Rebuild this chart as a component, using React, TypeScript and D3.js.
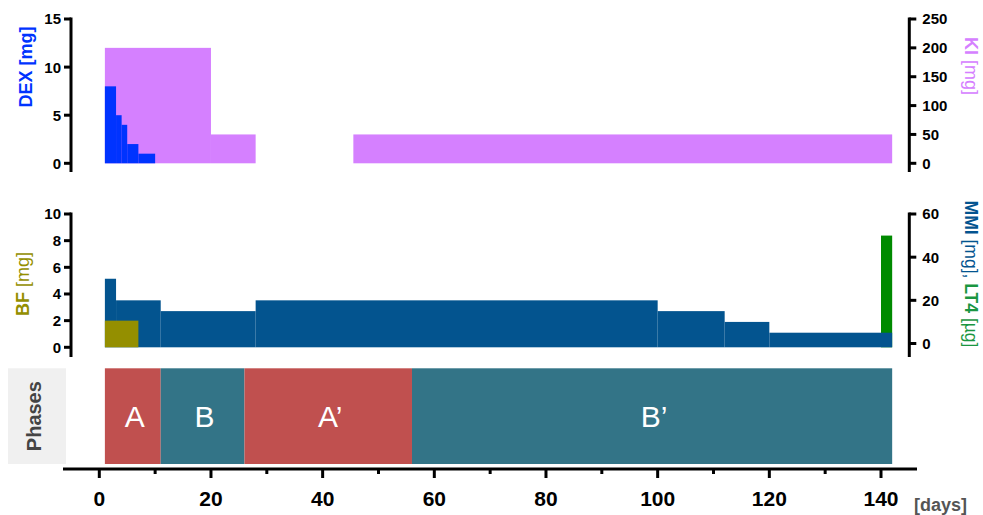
import { useRef, useEffect } from "react";
import * as d3 from "d3";

// step edges (days) and doses
const dexDays = [1, 3, 4, 5, 7, 10];
const dexDose = [8, 5, 4, 2, 1];

const kiStart = [1, 20, 45.5];
const kiEnd = [20, 28, 142];
const kiDose = [200, 50, 50];

const mmiDays = [1, 3, 11, 28, 100, 112, 120, 142];
const mmiDose = [30, 20, 15, 20, 15, 10, 5];

const bfStart = [1];
const bfEnd = [7];
const bfDose = [2];

const lt4Start = [140];
const lt4End = [142];
const lt4Dose = [50];

const phaseLabels = ["A", "B", "A\u2019", "B\u2019"];
const phaseStart = [1, 11, 26, 56];
const phaseEnd = [11, 26, 56, 142];

const xTicks = [0, 20, 40, 60, 80, 100, 120, 140];
const xMinorTicks = [10, 30, 50, 70, 90, 110, 130];
const dexTicks = [0, 5, 10, 15];
const kiTicks = [0, 50, 100, 150, 200, 250];
const bfTicks = [0, 2, 4, 6, 8, 10];
const mmiTicks = [0, 20, 40, 60];

const FONT = "'Liberation Sans', Arial, Helvetica, sans-serif";
const C_DEX = "#0033ff";
const C_KI = "#d580ff";
const C_MMI = "#03548f";
const C_BF = "#948f00";
const C_LT4 = "#008a00";
const C_A = "#c0504f";
const C_B = "#337487";

export default function App() {
  const svgRef = useRef<SVGSVGElement>(null);

  useEffect(() => {
    if (!svgRef.current) return;
    const svg = d3.select(svgRef.current);
    svg.selectAll("*").remove();

    const x = d3.scaleLinear().domain([0, 140]).range([99.3, 881]);

    const yDex = d3.scaleLinear().domain([0, 15]).range([163.3, 19]);
    const yKi = d3.scaleLinear().domain([0, 250]).range([163.3, 19]);
    const yBf = d3.scaleLinear().domain([0, 10]).range([347.3, 214]);
    const yMmi = d3.scaleLinear().domain([0, 60]).range([343.5, 214]);
    const midBase = yBf(0);

    const leftX = 71;
    const rightX = 909.3;

    // ---- top panel bars
    const top = svg.append("g");
    top
      .selectAll("rect.ki")
      .data(kiDose)
      .join("rect")
      .attr("x", (_, i) => x(kiStart[i]))
      .attr("width", (_, i) => x(kiEnd[i]) - x(kiStart[i]))
      .attr("y", (d) => yKi(d))
      .attr("height", (d) => yKi(0) - yKi(d))
      .attr("fill", C_KI);
    top
      .selectAll("rect.dex")
      .data(dexDose)
      .join("rect")
      .attr("x", (_, i) => x(dexDays[i]))
      .attr("width", (_, i) => x(dexDays[i + 1]) - x(dexDays[i]))
      .attr("y", (d) => yDex(d))
      .attr("height", (d) => yDex(0) - yDex(d))
      .attr("fill", C_DEX);

    // ---- middle panel bars
    const mid = svg.append("g");
    mid
      .selectAll("rect.lt4")
      .data(lt4Dose)
      .join("rect")
      .attr("x", (_, i) => x(lt4Start[i]))
      .attr("width", (_, i) => x(lt4End[i]) - x(lt4Start[i]))
      .attr("y", (d) => yMmi(d))
      .attr("height", (d) => midBase - yMmi(d))
      .attr("fill", C_LT4);
    mid
      .selectAll("rect.mmi")
      .data(mmiDose)
      .join("rect")
      .attr("x", (_, i) => x(mmiDays[i]))
      .attr("width", (_, i) => x(mmiDays[i + 1]) - x(mmiDays[i]))
      .attr("y", (d) => yMmi(d))
      .attr("height", (d) => midBase - yMmi(d))
      .attr("fill", C_MMI);
    mid
      .selectAll("rect.bf")
      .data(bfDose)
      .join("rect")
      .attr("x", (_, i) => x(bfStart[i]))
      .attr("width", (_, i) => x(bfEnd[i]) - x(bfStart[i]))
      .attr("y", (d) => yBf(d))
      .attr("height", (d) => midBase - yBf(d))
      .attr("fill", C_BF);

    // ---- phases
    const phTop = 368.3;
    const phBot = 464;
    const ph = svg.append("g");
    ph.append("rect")
      .attr("x", 8)
      .attr("y", phTop)
      .attr("width", 58)
      .attr("height", phBot - phTop)
      .attr("fill", "#f0f0f0");
    ph.append("text")
      .attr("transform", `translate(41,${(phTop + phBot) / 2}) rotate(-90)`)
      .attr("text-anchor", "middle")
      .attr("font-family", FONT)
      .attr("font-weight", "bold")
      .attr("font-size", 20)
      .attr("fill", "#444")
      .text("Phases");
    ph.selectAll("rect.phase")
      .data(phaseLabels)
      .join("rect")
      .attr("x", (_, i) => x(phaseStart[i]))
      .attr("width", (_, i) => x(phaseEnd[i]) - x(phaseStart[i]))
      .attr("y", phTop)
      .attr("height", phBot - phTop)
      .attr("fill", (_, i) => (i % 2 === 0 ? C_A : C_B));
    ph.selectAll("text.phase")
      .data(phaseLabels)
      .join("text")
      .attr("x", (_, i) => (x(phaseStart[i]) + x(phaseEnd[i])) / 2 + 2)
      .attr("y", (phTop + phBot) / 2 + 11)
      .attr("text-anchor", "middle")
      .attr("font-family", FONT)
      .attr("font-size", 30)
      .attr("fill", "#fff")
      .text((d) => d);

    // ---- y axes
    function yAxis(
      scale: d3.ScaleLinear<number, number>,
      ticks: number[],
      side: "left" | "right",
      y0: number,
      y1: number
    ) {
      const ax = side === "left" ? leftX : rightX;
      const g = svg.append("g");
      g.append("line")
        .attr("x1", ax)
        .attr("x2", ax)
        .attr("y1", y0)
        .attr("y2", y1)
        .attr("stroke", "#000")
        .attr("stroke-width", 3);
      const dir = side === "left" ? -1 : 1;
      g.selectAll("line.t")
        .data(ticks)
        .join("line")
        .attr("x1", ax)
        .attr("x2", ax + dir * 7)
        .attr("y1", (d) => scale(d))
        .attr("y2", (d) => scale(d))
        .attr("stroke", "#000")
        .attr("stroke-width", 3);
      g.selectAll("text")
        .data(ticks)
        .join("text")
        .attr("x", side === "left" ? ax - 10 : ax + 13)
        .attr("y", (d) => scale(d))
        .attr("dy", "0.36em")
        .attr("text-anchor", side === "left" ? "end" : "start")
        .attr("font-family", FONT)
        .attr("font-weight", "bold")
        .attr("font-size", 15)
        .attr("fill", "#000")
        .text((d) => String(d));
    }
    yAxis(yDex, dexTicks, "left", 17.5, 172);
    yAxis(yKi, kiTicks, "right", 17.5, 172);
    yAxis(yBf, bfTicks, "left", 212.5, 357);
    yAxis(yMmi, mmiTicks, "right", 212.5, 357);

    // ---- axis titles
    function title(
      cx: number,
      cy: number,
      rot: number,
      parts: { t: string; bold: boolean; c: string }[],
      size = 18
    ) {
      const t = svg
        .append("text")
        .attr("transform", `translate(${cx},${cy}) rotate(${rot})`)
        .attr("text-anchor", "middle")
        .attr("dy", "0.36em")
        .attr("font-family", FONT)
        .attr("font-size", size);
      parts.forEach((p) =>
        t
          .append("tspan")
          .attr("fill", p.c)
          .attr("font-weight", p.bold ? "bold" : "normal")
          .text(p.t)
      );
    }
    title(26, 67, -90, [
      { t: "DEX ", bold: true, c: C_DEX },
      { t: "[mg]", bold: true, c: C_DEX },
    ]);
    title(971, 66, 90, [
      { t: "KI ", bold: true, c: C_KI },
      { t: "[mg]", bold: false, c: C_KI },
    ]);
    title(23, 284, -90, [
      { t: "BF ", bold: true, c: C_BF },
      { t: "[mg]", bold: false, c: C_BF },
    ]);
    title(
      971,
      274,
      90,
      [
        { t: "MMI ", bold: true, c: C_MMI },
        { t: "[mg], ", bold: false, c: C_MMI },
        { t: "LT4 ", bold: true, c: "#1a9641" },
        { t: "[\u00b5g]", bold: false, c: "#1a9641" },
      ],
      17.5
    );

    // ---- x axis
    const axY = 469;
    const xg = svg.append("g");
    xg.append("line")
      .attr("x1", 63)
      .attr("x2", 917)
      .attr("y1", axY)
      .attr("y2", axY)
      .attr("stroke", "#000")
      .attr("stroke-width", 3);
    xg.selectAll("line.maj")
      .data(xTicks)
      .join("line")
      .attr("x1", (d) => x(d))
      .attr("x2", (d) => x(d))
      .attr("y1", axY)
      .attr("y2", axY + 9)
      .attr("stroke", "#000")
      .attr("stroke-width", 3);
    xg.selectAll("line.min")
      .data(xMinorTicks)
      .enter()
      .append("line")
      .attr("x1", (d) => x(d))
      .attr("x2", (d) => x(d))
      .attr("y1", axY)
      .attr("y2", axY + 5)
      .attr("stroke", "#000")
      .attr("stroke-width", 3);
    xg.selectAll("text")
      .data(xTicks)
      .join("text")
      .attr("x", (d) => x(d))
      .attr("y", 506)
      .attr("text-anchor", "middle")
      .attr("font-family", FONT)
      .attr("font-weight", "bold")
      .attr("font-size", 21)
      .attr("fill", "#000")
      .text((d) => String(d));
    svg
      .append("text")
      .attr("x", 914)
      .attr("y", 511)
      .attr("font-family", FONT)
      .attr("font-weight", "bold")
      .attr("font-size", 18)
      .attr("fill", "#555")
      .text("[days]");
  }, []);

  return (
    <div style={{ position: "absolute", left: 0, top: 0 }}>
      <svg ref={svgRef} width={983} height={515} style={{ display: "block" }} />
    </div>
  );
}
